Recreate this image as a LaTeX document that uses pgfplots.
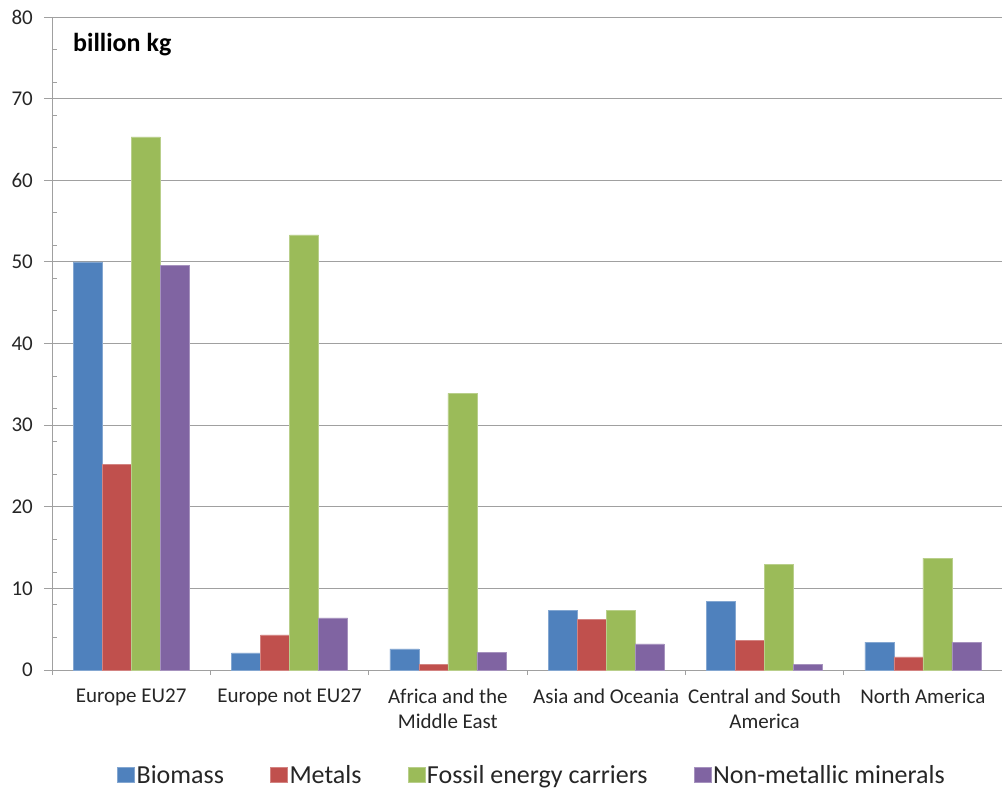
\documentclass[border=0pt]{standalone}
\usepackage{pgfplots}
\pgfplotsset{compat=1.18}
\usepackage{fontspec}
\setmainfont{Carlito}

\definecolor{cBio}{RGB}{79,129,189}
\definecolor{cMet}{RGB}{192,80,77}
\definecolor{cFos}{RGB}{155,187,89}
\definecolor{cMin}{RGB}{128,100,162}
\definecolor{gridcol}{RGB}{160,160,160}
\definecolor{txt}{RGB}{38,38,38}

\begin{document}
\begin{tikzpicture}
\path[use as bounding box] (0,0) rectangle (1003bp,790bp);
\begin{axis}[
  at={(52bp,120bp)}, anchor=south west,
  scale only axis, width=950bp, height=653bp,
  xmin=-0.5, xmax=5.5, ymin=0, ymax=80,
  ybar=0pt, bar width=29bp,
  axis line style={draw=none},
  ytick pos=left, xtick pos=bottom,
  ytick={0,10,...,80}, minor ytick={4,8,...,76},
  ymajorgrids, major grid style={gridcol, line width=0.8bp},
  xtick={0,...,5},
  xticklabels={Europe EU27, Europe not EU27, Africa and the\\Middle East,
               Asia and Oceania, Central and South\\America, North America},
  minor xtick={-0.5,0.5,...,4.5},
  tick align=outside,
  major tick length=8bp, minor tick length=5bp,
  tick style={draw=gridcol, line width=0.8bp},
  major x tick style={draw=none},
  minor y tick style={xshift=5bp},
  /pgf/number format/assume math mode=true,
  yticklabel style={font=\fontsize{21bp}{25bp}\selectfont, text=txt, inner sep=0pt, xshift=-11bp},
  xticklabel style={font=\fontsize{21bp}{25bp}\selectfont, text=txt, align=center, anchor=north, yshift=-7bp},
  legend columns=4,
  legend style={at={(axis description cs:0.5,0)}, anchor=center, yshift=-105bp, xshift=5bp,
    draw=none, fill=none, font=\fontsize{26bp}{30bp}\selectfont, text=txt,
    /tikz/every even column/.append style={column sep=44bp}},
  legend image code/.code={\fill[#1] (0bp,-7.5bp) rectangle (17bp,7.5bp);},
  clip=false,
]
% left and bottom axis lines
\draw[gridcol, line width=0.8bp] (rel axis cs:0,1) -- (rel axis cs:0,0) -- (rel axis cs:1,0);
\addplot[fill=cBio, draw=cBio!70!white, line width=0.5bp] coordinates
  {(0,50.0) (1,2.1) (2,2.6) (3,7.3) (4,8.4) (5,3.4)};
\addplot[fill=cMet, draw=cMet!70!white, line width=0.5bp] coordinates
  {(0,25.2) (1,4.3) (2,0.7) (3,6.2) (4,3.6) (5,1.6)};
\addplot[fill=cFos, draw=cFos!70!white, line width=0.5bp] coordinates
  {(0,65.3) (1,53.3) (2,33.9) (3,7.3) (4,12.9) (5,13.7)};
\addplot[fill=cMin, draw=cMin!70!white, line width=0.5bp] coordinates
  {(0,49.6) (1,6.4) (2,2.2) (3,3.2) (4,0.7) (5,3.4)};
\legend{Biomass, Metals, Fossil energy carriers, Non-metallic minerals}
\node[anchor=base west, font=\fontsize{26bp}{31bp}\selectfont\bfseries, text=black, inner sep=0pt]
  at (rel axis cs:0,1) [xshift=21bp, yshift=-35bp] {billion kg};
\end{axis}
\end{tikzpicture}
\end{document}
